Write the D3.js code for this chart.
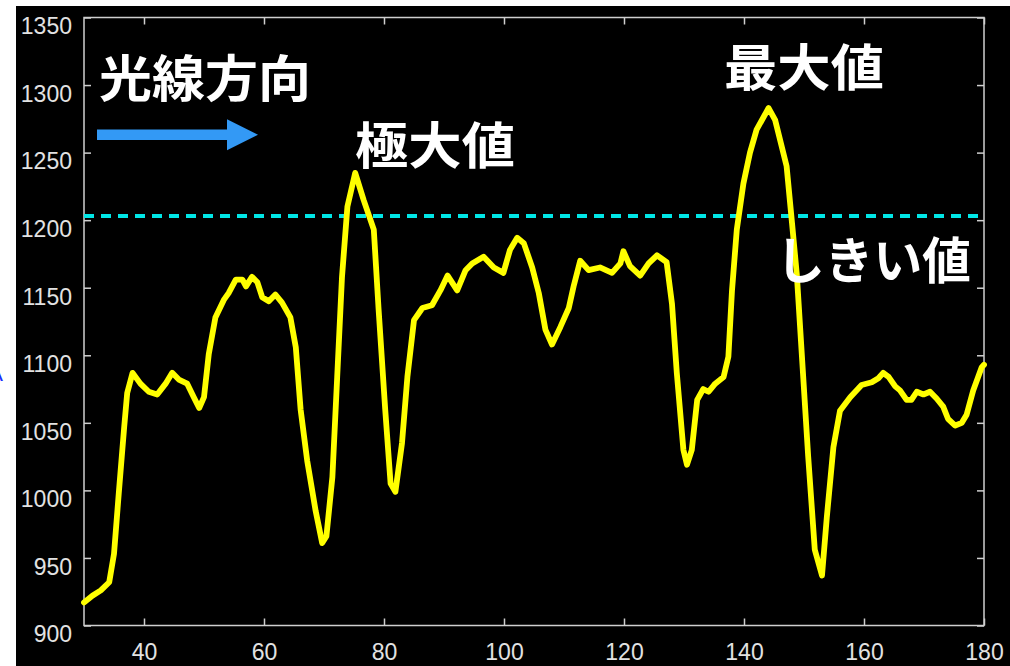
<!DOCTYPE html>
<html>
<head>
<meta charset="utf-8">
<script src="https://cdn.jsdelivr.net/npm/d3@7"></script>
<style>
  html, body { margin: 0; padding: 0; background: #fff; }
  svg { display: block; }
</style>
</head>
<body>
<svg id="chart" width="1010" height="666"></svg>
<script>
// Pixel position along the ray and the intensity profile sampled there
const positions = [
  30, 31.4, 32.8, 34.2, 35, 35.8, 36.7, 37.2, 38.1, 39.4, 40.8, 42.2, 43.6, 44.7, 45.8, 47.2,
  48.3, 49.2, 50, 50.8, 51.9, 53.3, 54.1, 55.3, 56.4, 57, 58, 58.9, 59.7, 60.8, 61.9, 63,
  64.4, 65.3, 66.1, 67.2, 68.6, 69.7, 70.4, 71.4, 72.2, 73, 73.9, 75.2, 76.6, 78.3, 79.1, 80.2,
  81.1, 81.9, 83, 83.9, 85, 86.4, 88, 89.4, 90.6, 92.2, 93.6, 94.7, 96.6, 98.3, 99.9, 101,
  102.2, 103.3, 104.7, 105.8, 106.9, 108, 109.4, 110.8, 111.6, 112.7, 114.1, 116, 118, 119.4,
  119.9, 121, 122.7, 124.1, 125.5, 127.1, 128, 128.8, 129.9, 130.5, 131.3, 132.2, 133.2, 134.1,
  135.2, 136.6, 137.4, 138, 138.8, 139.9, 141, 142.1, 144.1, 145.2, 147.1, 148, 148.8, 150.7,
  151.8, 153, 153.8, 154.9, 156, 157.7, 159.6, 161.3, 162.4, 163.2, 164.1, 165.2, 166, 167.1,
  167.9, 168.8, 169.9, 171, 172.1, 173.2, 174, 175.2, 176.3, 177.1, 178.2, 179.6, 180
];
const intensity = [
  917, 922, 926, 932, 953, 998, 1047, 1072, 1087, 1079, 1073, 1071, 1079, 1087, 1082, 1079,
  1069, 1061, 1069, 1101, 1128, 1141, 1146, 1156, 1156, 1151, 1158, 1154, 1143, 1140, 1145, 1139,
  1128, 1106, 1060, 1022, 985, 961, 966, 1010, 1084, 1158, 1210, 1235, 1215, 1193, 1134, 1060,
  1005, 999, 1035, 1084, 1126, 1135, 1137, 1148, 1159, 1148, 1163, 1168, 1173, 1165, 1161, 1178,
  1187, 1183, 1165, 1146, 1119, 1108, 1121, 1135, 1151, 1170, 1163, 1165, 1161, 1168,
  1177, 1166, 1159, 1168, 1174, 1169, 1138, 1087, 1030, 1019, 1030, 1067, 1075, 1073,
  1079, 1084, 1099, 1148, 1193, 1227, 1250, 1267, 1283, 1274, 1240, 1198, 1160, 1025,
  956, 937, 980, 1032, 1059, 1069, 1078, 1080, 1083, 1087, 1084, 1077, 1074, 1067,
  1067, 1073, 1071, 1073, 1068, 1062, 1053, 1048, 1050, 1056, 1074, 1091, 1093
];
const threshold = 1203;
const xTicks = [40, 60, 80, 100, 120, 140, 160, 180];
const yTicks = [900, 950, 1000, 1050, 1100, 1150, 1200, 1250, 1300, 1350];
const labels = [
  { text: "光線方向", x: 99, y: 97, len: 212 },
  { text: "極大値", x: 355, y: 164, len: 160 },
  { text: "最大値", x: 724, y: 86, len: 160 },
  { text: "しきい値", x: 776, y: 279, len: 195 }
];

const W = 1010, H = 666;
const plot = { left: 84, right: 984, top: 17.5, bottom: 625.5 };

const svg = d3.select("#chart");

// page background: black panel with a thin white margin on the top and left
svg.append("rect").attr("x", 0).attr("y", 0).attr("width", W).attr("height", H).attr("fill", "#fff");
svg.append("rect").attr("x", 16).attr("y", 6).attr("width", W - 16).attr("height", H - 6).attr("fill", "#000");

// stray blue glyph cut by the left edge
svg.append("text")
  .attr("x", 3).attr("y", 381)
  .attr("text-anchor", "end")
  .attr("font-family", "Liberation Sans, Arial, sans-serif")
  .attr("font-size", 22)
  .attr("fill", "#1a2cff")
  .text("A");

const x = d3.scaleLinear().domain([30, 180]).range([plot.left, plot.right]);
const y = d3.scaleLinear().domain([900, 1350]).range([plot.bottom, plot.top]);

const axisColor = "#cfcfcf";
const labelColor = "#e2e2e2";
const numFont = "Liberation Sans, Arial, Helvetica, sans-serif";

function styleAxis(g, showText) {
  g.select(".domain").remove();
  g.selectAll(".tick line").attr("stroke", axisColor).attr("stroke-width", 1.5);
  g.selectAll(".tick text")
    .attr("fill", labelColor)
    .attr("font-family", numFont)
    .attr("font-size", 23)
    .style("display", showText ? null : "none");
}

// bottom axis with labels, top axis ticks only
svg.append("g")
  .attr("transform", `translate(0,${plot.bottom})`)
  .call(d3.axisBottom(x).tickValues(xTicks).tickSize(-7).tickPadding(18).tickFormat(d3.format("d")))
  .call(g => styleAxis(g, true));
svg.append("g")
  .attr("transform", `translate(0,${plot.top})`)
  .call(d3.axisTop(x).tickValues(xTicks).tickSize(-7))
  .call(g => styleAxis(g, false));

// left axis with labels, right axis ticks only
const gy = svg.append("g")
  .attr("transform", `translate(${plot.left},0)`)
  .call(d3.axisLeft(y).tickValues(yTicks).tickSize(-7).tickPadding(12).tickFormat(d3.format("d")))
  .call(g => styleAxis(g, true));
gy.selectAll(".tick text").attr("dy", "0.71em");
svg.append("g")
  .attr("transform", `translate(${plot.right},0)`)
  .call(d3.axisRight(y).tickValues(yTicks).tickSize(-7))
  .call(g => styleAxis(g, false));

// axes box
svg.append("rect")
  .attr("x", plot.left).attr("y", plot.top)
  .attr("width", plot.right - plot.left).attr("height", plot.bottom - plot.top)
  .attr("fill", "none").attr("stroke", axisColor).attr("stroke-width", 1.5);

// threshold line
svg.append("line")
  .attr("x1", x(30)).attr("x2", x(180))
  .attr("y1", y(threshold)).attr("y2", y(threshold))
  .attr("stroke", "#00e6e6").attr("stroke-width", 4)
  .attr("stroke-dasharray", "10,7");

// intensity profile
const data = positions.map((p, i) => [p, intensity[i]]);
svg.append("path")
  .datum(data)
  .attr("fill", "none")
  .attr("stroke", "#ffff00")
  .attr("stroke-width", 5.8)
  .attr("stroke-linejoin", "round")
  .attr("stroke-linecap", "round")
  .attr("d", d3.line().x(d => x(d[0])).y(d => y(d[1])));

// direction arrow
const arrowY = 134.7;
svg.append("line")
  .attr("x1", 97).attr("x2", 230).attr("y1", arrowY).attr("y2", arrowY)
  .attr("stroke", "#3399f5").attr("stroke-width", 10.5);
svg.append("path")
  .attr("d", `M227,${arrowY - 15.5} L258,${arrowY} L227,${arrowY + 15.5} Z`)
  .attr("fill", "#3399f5");

// annotations
svg.selectAll("text.note")
  .data(labels)
  .join("text")
  .attr("class", "note")
  .attr("x", d => d.x).attr("y", d => d.y)
  .attr("font-family", "Noto Sans CJK JP, sans-serif")
  .attr("font-weight", "bold")
  .attr("font-size", 50)
  .attr("textLength", d => d.len)
  .attr("lengthAdjust", "spacingAndGlyphs")
  .attr("fill", "#fff")
  .text(d => d.text);
</script>
</body>
</html>
